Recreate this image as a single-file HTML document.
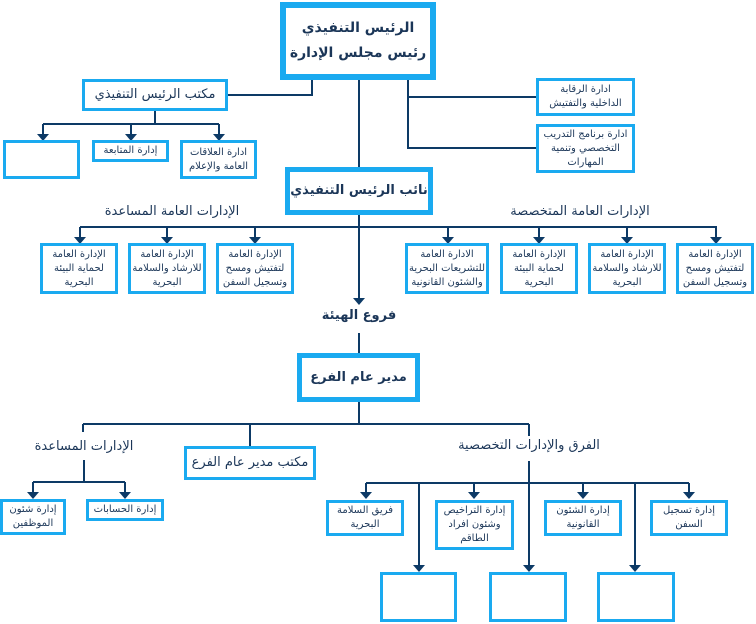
<!DOCTYPE html>
<html><head><meta charset="utf-8"><style>
body{margin:0;width:756px;height:624px;background:#fff;position:relative;overflow:hidden;font-family:"DejaVu Sans",sans-serif;color:#1b3658}
.b{position:absolute;box-sizing:border-box;border:3px solid #1aaaf0;background:#fff;display:flex;align-items:center;justify-content:center;text-align:center;direction:rtl;font-size:10px;line-height:14px;white-space:nowrap}
.t{position:absolute;direction:rtl;text-align:center;white-space:nowrap;font-size:13px}
svg{position:absolute;left:0;top:0}
</style></head><body>
<svg width="756" height="624">
<g stroke="#0d3a66" stroke-width="2" fill="none">
<path d="M359 80V300M312 80V95H228M408 80V148H536M408 97H536"/>
<path d="M155 111V124M43 124H219M43 124V134M131 124V134M219 124V134"/>
<path d="M80 227H717M80 227V237M167 227V237M255 227V237M448 227V237M539 227V237M627 227V237M716 227V237"/>
<path d="M359 333V353M359 402V424M83 424H529M83 424V432M250 424V446M529 424V436"/>
<path d="M84 460V482M33 482H125M33 482V493M125 482V493"/>
<path d="M529 461V566M366 483H689M366 483V493M474 483V493M583 483V493M689 483V493M419 483V566M635 483V566"/>
</g>
<g fill="#0d3a66">
<path d="M37 134h12l-6 7zM125 134h12l-6 7zM213 134h12l-6 7z"/>
<path d="M74 237h12l-6 7zM161 237h12l-6 7zM249 237h12l-6 7zM442 237h12l-6 7zM533 237h12l-6 7zM621 237h12l-6 7zM710 237h12l-6 7zM353 298h12l-6 7z"/>
<path d="M27 492h12l-6 7zM119 492h12l-6 7zM360 492h12l-6 7zM468 492h12l-6 7zM577 492h12l-6 7zM683 492h12l-6 7zM413 565h12l-6 7zM523 565h12l-6 7zM629 565h12l-6 7z"/>
</g></svg>
<div class="b" style="left:280px;top:2px;width:156px;height:78px;border-width:6px;font-size:14px;line-height:25px;font-weight:bold">الرئيس التنفيذي<br>رئيس مجلس الإدارة</div>
<div class="b" style="left:82px;top:79px;width:146px;height:32px;font-size:13px">مكتب الرئيس التنفيذي</div>
<div class="b" style="left:536px;top:78px;width:99px;height:38px">ادارة الرقابة<br>الداخلية والتفتيش</div>
<div class="b" style="left:536px;top:124px;width:99px;height:49px">ادارة برنامج التدريب<br>التخصصي وتنمية<br>المهارات</div>
<div class="b" style="left:3px;top:140px;width:77px;height:39px"></div>
<div class="b" style="left:92px;top:140px;width:77px;height:22px">إدارة المتابعة</div>
<div class="b" style="left:180px;top:140px;width:77px;height:39px">ادارة العلاقات<br>العامة والإعلام</div>
<div class="b" style="left:285px;top:167px;width:148px;height:48px;border-width:5px;font-size:13px;font-weight:bold">نائب الرئيس التنفيذي</div>
<div class="t" style="left:82px;top:204px;width:180px">الإدارات العامة المساعدة</div>
<div class="t" style="left:490px;top:204px;width:180px">الإدارات العامة المتخصصة</div>
<div class="b" style="left:40px;top:243px;width:78px;height:51px">الإدارة العامة<br>لحماية البيئة<br>البحرية</div>
<div class="b" style="left:128px;top:243px;width:78px;height:51px">الإدارة العامة<br>للارشاد والسلامة<br>البحرية</div>
<div class="b" style="left:216px;top:243px;width:78px;height:51px">الإدارة العامة<br>لتفتيش ومسح<br>وتسجيل السفن</div>
<div class="b" style="left:405px;top:243px;width:84px;height:51px">الادارة العامة<br>للتشريعات البحرية<br>والشئون القانونية</div>
<div class="b" style="left:500px;top:243px;width:78px;height:51px">الإدارة العامة<br>لحماية البيئة<br>البحرية</div>
<div class="b" style="left:588px;top:243px;width:78px;height:51px">الإدارة العامة<br>للارشاد والسلامة<br>البحرية</div>
<div class="b" style="left:676px;top:243px;width:78px;height:51px">الإدارة العامة<br>لتفتيش ومسح<br>وتسجيل السفن</div>
<div class="t" style="left:299px;top:308px;width:120px;font-weight:bold">فروع الهيئة</div>
<div class="b" style="left:297px;top:353px;width:123px;height:49px;border-width:5px;font-size:13px;font-weight:bold">مدير عام الفرع</div>
<div class="t" style="left:14px;top:439px;width:140px">الإدارات المساعدة</div>
<div class="b" style="left:184px;top:446px;width:132px;height:34px;font-size:13px">مكتب مدير عام الفرع</div>
<div class="t" style="left:434px;top:438px;width:190px">الفرق والإدارات التخصصية</div>
<div class="b" style="left:0px;top:499px;width:66px;height:36px">إدارة شئون<br>الموظفين</div>
<div class="b" style="left:86px;top:499px;width:78px;height:22px">إدارة الحسابات</div>
<div class="b" style="left:326px;top:500px;width:78px;height:36px">فريق السلامة<br>البحرية</div>
<div class="b" style="left:435px;top:500px;width:79px;height:50px">إدارة التراخيص<br>وشئون افراد<br>الطاقم</div>
<div class="b" style="left:544px;top:500px;width:78px;height:36px">إدارة الشئون<br>القانونية</div>
<div class="b" style="left:650px;top:500px;width:78px;height:36px">إدارة تسجيل<br>السفن</div>
<div class="b" style="left:380px;top:572px;width:77px;height:50px"></div>
<div class="b" style="left:489px;top:572px;width:78px;height:50px"></div>
<div class="b" style="left:597px;top:572px;width:78px;height:50px"></div>
</body></html>
